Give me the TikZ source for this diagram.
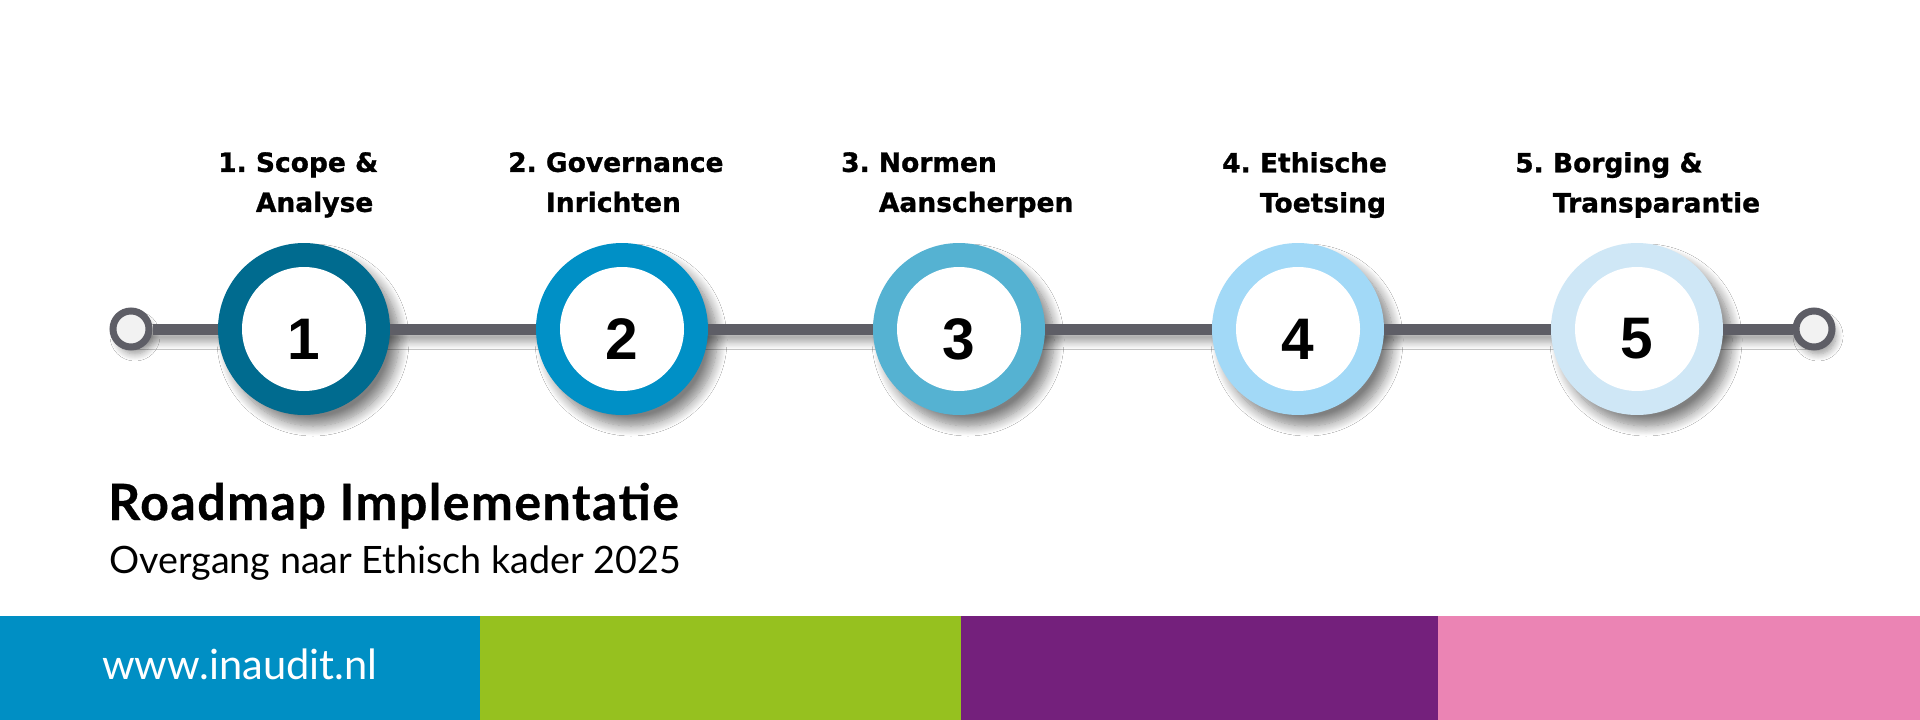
\documentclass[tikz,border=0pt]{standalone}
\usepackage{fontspec}
\setmainfont{Lato}
\newfontfamily\labfont[FakeBold=1]{DejaVu Sans}
\newfontfamily\titlefont[LetterSpace=3,FakeBold=0.6]{Lato}
\newfontfamily\numfont{Liberation Sans}
\usetikzlibrary{shadows.blur,calc}
\definecolor{cA}{HTML}{006B8F}
\definecolor{cB}{HTML}{0090C6}
\definecolor{cC}{HTML}{55B2D2}
\definecolor{cD}{HTML}{A2D9F7}
\definecolor{cE}{HTML}{CFE7F6}
\definecolor{lgray}{HTML}{5E5E66}
\definecolor{barblue}{HTML}{008FC4}
\definecolor{bargreen}{HTML}{96C11F}
\definecolor{barpurple}{HTML}{74207C}
\definecolor{barpink}{HTML}{EB84B4}
\tikzset{
  softshadow/.style={blur shadow={shadow xshift=9pt, shadow yshift=-11pt, shadow blur radius=10pt, shadow blur steps=12, shadow opacity=50}},
  disk/.style={circle, minimum size=172pt, inner sep=0pt, outer sep=0pt, draw=none, softshadow},
  hole/.style={circle, minimum size=124pt, inner sep=0pt, fill=white},
  endpt/.style={circle, minimum size=36pt, inner sep=0pt, line width=7pt, draw=lgray, fill=gray!10,
     blur shadow={shadow xshift=4pt, shadow yshift=-7pt, shadow blur radius=7pt, shadow blur steps=10, shadow opacity=40}},
  conn/.style={draw=lgray, line width=11pt},
  numtxt/.style={font=\numfont\bfseries\fontsize{58.6pt}{60pt}\selectfont, inner sep=0pt, text=black},
  lab/.style={font=\labfont\bfseries\fontsize{26.5pt}{40pt}\selectfont, align=left, anchor=north west, inner sep=0pt, text=black},
}
\begin{document}
\begin{tikzpicture}[x=1pt,y=-1pt]
\useasboundingbox (0,0) rectangle (1920,720);
\fill[white] (0,0) rectangle (1920,720);
% bottom bars
\fill[barblue] (0,616) rectangle (480,720);
\fill[bargreen] (480,616) rectangle (961,720);
\fill[barpurple] (961,616) rectangle (1438,720);
\fill[barpink] (1438,616) rectangle (1920,720);
\node[anchor=base west, inner sep=0pt, text=white, font=\fontsize{41.6pt}{44pt}\selectfont] (url) at (102,679) {www.inaudit.nl};
% end points
\coordinate (cl) at (131,329);
\coordinate (cr) at (1814,329);
\path[blur shadow={shadow xshift=3pt, shadow yshift=-8pt, shadow blur radius=7pt, shadow blur steps=10, shadow opacity=35}]
  ($(cl)+(0,-5.5)$) rectangle ($(cr)+(0,5.5)$);
\node[endpt] (eL) at (cl) {};
\node[endpt] (eR) at (cr) {};
% milestones
\node[disk, fill=cA] (s1) at (304,329) {};
\node[disk, fill=cB] (s2) at (622,329) {};
\node[disk, fill=cC] (s3) at (959,329) {};
\node[disk, fill=cD] (s4) at (1298,329) {};
\node[disk, fill=cE] (s5) at (1637,329) {};
\foreach \i in {1,...,5} { \node[hole] (h\i) at (s\i) {}; }
% connectors
\draw[conn] (eL) -- (s1);
\draw[conn] (s1) -- (s2);
\draw[conn] (s2) -- (s3);
\draw[conn] (s3) -- (s4);
\draw[conn] (s4) -- (s5);
\draw[conn] (s5) -- (eR);
% numbers
\node[numtxt] (n1) at (304,339) {1};
\node[numtxt] (n2) at (622,339) {2};
\node[numtxt] (n3) at (959,339) {3};
\node[numtxt] (n4) at (1298,339) {4};
\node[numtxt] (n5) at (1637,339) {5};
% labels
\node[lab] (l1) at (218,152) {1.\ Scope \&\\\phantom{1.\ }Analyse};
\node[lab] (l2) at (508,152) {2.\ Governance\\\phantom{2.\ }Inrichten};
\node[lab] (l3) at (841,152) {3.\ Normen\\\phantom{3.\ }Aanscherpen};
\node[lab] (l4) at (1222,152) {4.\ Ethische\\\phantom{4.\ }Toetsing};
\node[lab] (l5) at (1515,152) {5.\ Borging \&\\\phantom{5.\ }Transparantie};
% title
\node[anchor=base west, inner sep=0pt, font=\titlefont\bfseries\fontsize{50pt}{52pt}\selectfont] (title) at (108,520) {Roadmap Implementatie};
\node[anchor=base west, inner sep=0pt, font=\fontsize{37.7pt}{40pt}\selectfont] (sub) at (109,573) {Overgang naar Ethisch kader 2025};
\end{tikzpicture}
\end{document}
